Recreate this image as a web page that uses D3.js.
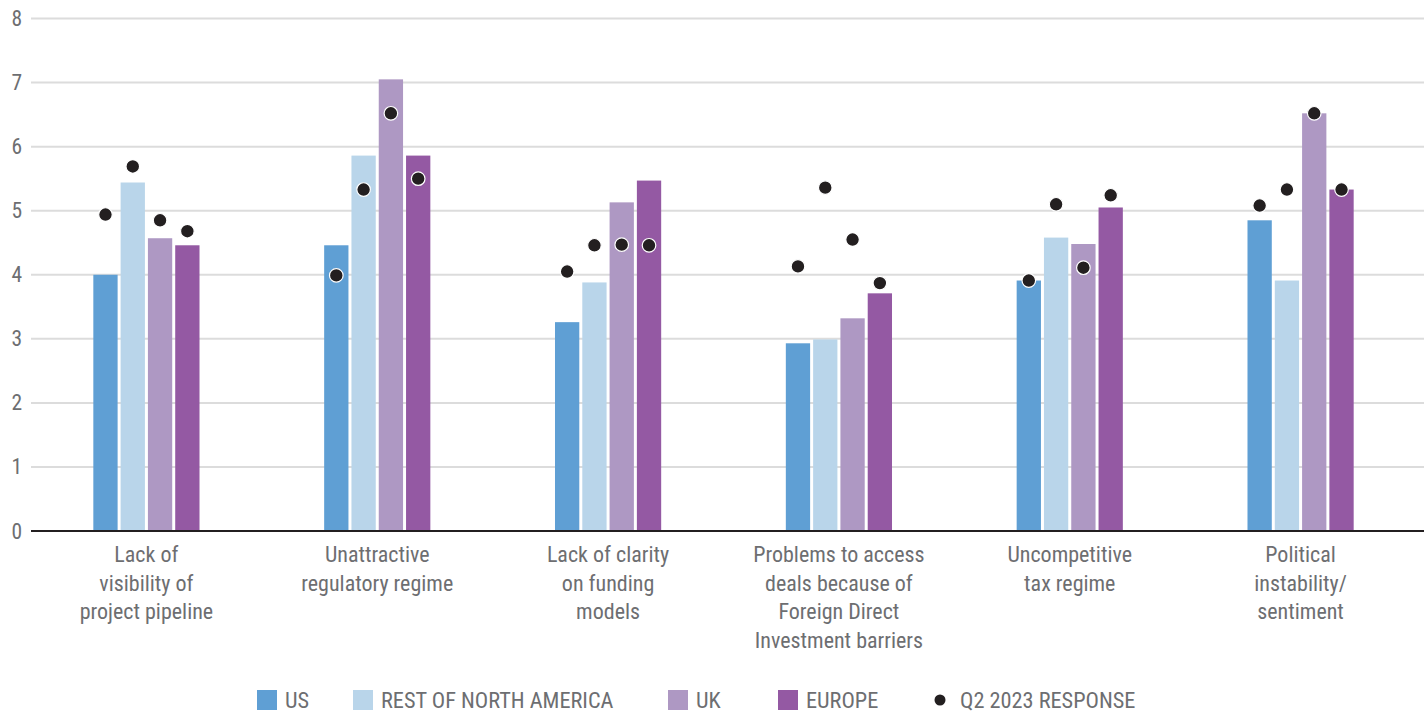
<!DOCTYPE html>
<html>
<head>
<meta charset="utf-8">
<script src="https://cdn.jsdelivr.net/npm/d3@7"></script>
<style>
  html, body { margin: 0; padding: 0; background: #ffffff; }
  svg { display: block; }
  text { font-family: "Liberation Sans Narrow", "Roboto Condensed", "Arial Narrow", sans-serif; fill: #6d6e71; }
</style>
</head>
<body>
<svg id="chart" width="1424" height="713"></svg>
<script>
// Barriers to investment, scored by region
const categories = [
  ["Lack of", "visibility of", "project pipeline"],
  ["Unattractive", "regulatory regime"],
  ["Lack of clarity", "on funding", "models"],
  ["Problems to access", "deals because of", "Foreign Direct", "Investment barriers"],
  ["Uncompetitive", "tax regime"],
  ["Political", "instability/", "sentiment"]
];
const seriesNames = ["US", "REST OF NORTH AMERICA", "UK", "EUROPE"];
const seriesColors = ["#5f9fd4", "#b9d5ea", "#ae98c3", "#9459a3"];

const usValues     = [4.00, 4.46, 3.26, 2.93, 3.91, 4.85];
const restNAValues = [5.44, 5.86, 3.88, 2.99, 4.58, 3.91];
const ukValues     = [4.57, 7.05, 5.13, 3.32, 4.48, 6.52];
const europeValues = [4.46, 5.86, 5.47, 3.71, 5.05, 5.33];

// Previous survey wave (Q2 2023), one point per bar
const usQ2     = [4.94, 3.99, 4.05, 4.13, 3.91, 5.08];
const restNAQ2 = [5.69, 5.33, 4.46, 5.36, 5.10, 5.33];
const ukQ2     = [4.85, 6.52, 4.47, 4.55, 4.11, 6.52];
const europeQ2 = [4.68, 5.50, 4.46, 3.87, 5.24, 5.33];

const yTicks = [0, 1, 2, 3, 4, 5, 6, 7, 8];
const dotLabel = "Q2 2023 RESPONSE";

const current = [usValues, restNAValues, ukValues, europeValues];
const previous = [usQ2, restNAQ2, ukQ2, europeQ2];

const svg = d3.select("#chart");
const plotLeft = 31, plotRight = 1424, plotTop = 18.5, plotBottom = 531;
const bandRight = 1416;

const x0 = d3.scaleBand()
  .domain(d3.range(categories.length))
  .range([plotLeft, bandRight])
  .paddingInner(0.54)
  .paddingOuter(0.27);

const x1 = d3.scaleBand()
  .domain(d3.range(seriesNames.length))
  .range([0, x0.bandwidth()])
  .paddingInner(0.11);

const y = d3.scaleLinear().domain([0, 8]).range([plotBottom, plotTop]);

// gridlines
svg.append("g")
  .selectAll("line")
  .data(yTicks.filter(t => t > 0))
  .join("line")
  .attr("x1", plotLeft).attr("x2", plotRight)
  .attr("y1", d => y(d)).attr("y2", d => y(d))
  .attr("stroke", "#dcdcdc")
  .attr("stroke-width", 2);

// y tick labels
svg.append("g")
  .selectAll("text")
  .data(yTicks)
  .join("text")
  .attr("x", 22)
  .attr("y", d => y(d))
  .attr("dy", "0.35em")
  .attr("text-anchor", "end")
  .attr("font-size", 21.5)
  .text(d => d);

// bars
const groups = svg.append("g")
  .selectAll("g")
  .data(categories.map((c, i) => i))
  .join("g")
  .attr("transform", i => `translate(${x0(i)},0)`);

groups.selectAll("rect")
  .data(i => current.map((s, k) => ({ k, v: s[i] })))
  .join("rect")
  .attr("x", d => x1(d.k))
  .attr("width", x1.bandwidth())
  .attr("y", d => y(d.v))
  .attr("height", d => y(0) - y(d.v))
  .attr("fill", d => seriesColors[d.k]);

// baseline
svg.append("line")
  .attr("x1", plotLeft).attr("x2", plotRight)
  .attr("y1", y(0)).attr("y2", y(0))
  .attr("stroke", "#231f20")
  .attr("stroke-width", 2);

// Q2 2023 dots
groups.selectAll("circle")
  .data(i => previous.map((s, k) => ({ k, v: s[i] })))
  .join("circle")
  .attr("cx", d => x1(d.k) + x1.bandwidth() / 2)
  .attr("cy", d => y(d.v))
  .attr("r", 6.8)
  .attr("fill", "#231f20")
  .attr("stroke", "#ffffff")
  .attr("stroke-width", 1.2);

// category labels
svg.append("g")
  .selectAll("text")
  .data(categories.map((c, i) => ({ c, i })))
  .join("text")
  .attr("x", d => x0(d.i) + x0.bandwidth() / 2)
  .attr("y", 562)
  .attr("text-anchor", "middle")
  .attr("font-size", 22)
  .each(function (d) {
    d3.select(this).selectAll("tspan")
      .data(d.c)
      .join("tspan")
      .attr("x", x0(d.i) + x0.bandwidth() / 2)
      .attr("dy", (t, j) => j === 0 ? 0 : 28.5)
      .text(t => t);
  });

// legend
const legendItems = [
  { label: seriesNames[0], color: seriesColors[0], x: 257 },
  { label: seriesNames[1], color: seriesColors[1], x: 353 },
  { label: seriesNames[2], color: seriesColors[2], x: 668 },
  { label: seriesNames[3], color: seriesColors[3], x: 778 },
  { label: dotLabel, color: "#231f20", x: 933, dot: true }
];
const lg = svg.append("g")
  .selectAll("g")
  .data(legendItems)
  .join("g")
  .attr("transform", d => `translate(${d.x},690)`);

lg.filter(d => !d.dot).append("rect")
  .attr("width", 20).attr("height", 20)
  .attr("fill", d => d.color);
lg.filter(d => d.dot).append("circle")
  .attr("cx", 7).attr("cy", 10).attr("r", 5.5)
  .attr("fill", d => d.color);
lg.append("text")
  .attr("x", d => d.dot ? 27 : 28)
  .attr("y", 10)
  .attr("dy", "0.36em")
  .attr("font-size", 22.3)
  .text(d => d.label);
</script>
</body>
</html>
